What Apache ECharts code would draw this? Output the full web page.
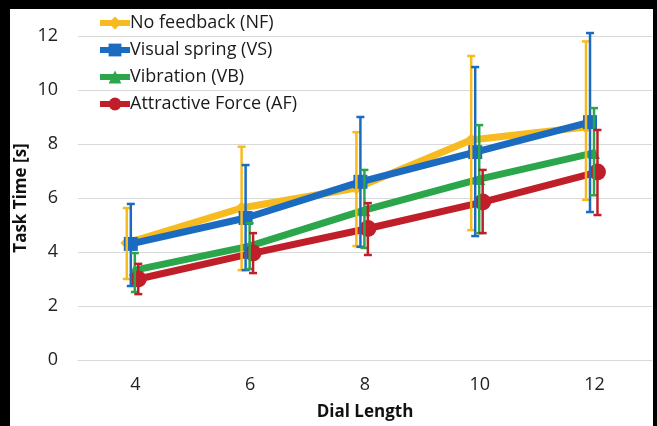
<!DOCTYPE html>
<html>
<head>
<meta charset="utf-8">
<script src="https://cdn.jsdelivr.net/npm/echarts@6.0.0/dist/echarts.min.js"></script>
<style>
    html, body { margin: 0; padding: 0; background: #000; }
    #my_chart { position: absolute; left: 10px; top: 9px; width: 643px; height: 417px; background: #fff; }
</style>
</head>
<body>
<div id="my_chart"></div>
<script>
// x轴：旋钮长度
var dialLength = [4, 6, 8, 10, 12];
// 每个条件在 x 方向的小偏移（原图中误差棒错开排列）
var xShift = [-0.15, -0.08, -0.01, 0.05];

var names = ['No feedback (NF)', 'Visual spring (VS)', 'Vibration (VB)', 'Attractive Force (AF)'];
var colors = ['#F7BA1F', '#1B6CC1', '#2BA64B', '#C01F2A'];
var symbols = ['diamond', 'rect', 'triangle', 'circle'];
var symbolSizes = [13, 14, 12, 17];

// 平均时间
var nfMean = [4.33, 5.63, 6.37, 8.15, 8.63];
var vsMean = [4.30, 5.26, 6.60, 7.70, 8.81];
var vbMean = [3.33, 4.22, 5.55, 6.70, 7.67];
var afMean = [3.00, 3.96, 4.87, 5.85, 6.96];
// 误差棒上端
var nfHigh = [5.63, 7.90, 8.44, 11.26, 11.80];
var vsHigh = [5.78, 7.22, 9.00, 10.85, 12.11];
var vbHigh = [3.96, 5.07, 7.04, 8.70, 9.33];
var afHigh = [3.56, 4.70, 5.81, 7.04, 8.52];
// 误差棒下端
var nfLow = [3.00, 3.33, 4.22, 4.81, 5.93];
var vsLow = [2.74, 3.33, 4.19, 4.59, 5.48];
var vbLow = [2.52, 3.37, 4.15, 4.70, 6.10];
var afLow = [2.44, 3.22, 3.89, 4.70, 5.37];

var yTicks = [0, 2, 4, 6, 8, 10, 12];

var means = [nfMean, vsMean, vbMean, afMean];
var highs = [nfHigh, vsHigh, vbHigh, afHigh];
var lows = [nfLow, vsLow, vbLow, afLow];

var font = '"Open Sans", Lato, sans-serif';

var myChart = echarts.init(document.getElementById('my_chart'));

var series = [];
// 折线
means.forEach(function (m, i) {
    series.push({
        name: names[i],
        type: 'line',
        symbol: symbols[i],
        symbolSize: symbolSizes[i],
        lineStyle: { width: 7, color: colors[i] },
        itemStyle: { color: colors[i] },
        z: 2 + i,
        data: m.map(function (v, k) { return [dialLength[k] + xShift[i], v]; })
    });
});
// 误差棒
means.forEach(function (m, i) {
    series.push({
        type: 'custom',
        name: names[i],
        z: 10 + i,
        clip: false,
        renderItem: function (params, api) {
            var x = api.value(0);
            var top = api.coord([x, api.value(1)]);
            var bot = api.coord([x, api.value(2)]);
            var cap = 4;
            var st = { stroke: colors[i], lineWidth: 2.5 };
            return {
                type: 'group',
                children: [
                    { type: 'line', shape: { x1: top[0], y1: top[1], x2: bot[0], y2: bot[1] }, style: st },
                    { type: 'line', shape: { x1: top[0] - cap, y1: top[1], x2: top[0] + cap, y2: top[1] }, style: st },
                    { type: 'line', shape: { x1: bot[0] - cap, y1: bot[1], x2: bot[0] + cap, y2: bot[1] }, style: st }
                ]
            };
        },
        data: m.map(function (v, k) { return [dialLength[k] + xShift[i], highs[i][k], lows[i][k]]; })
    });
});

var option = {
    animation: false,
    textStyle: { fontFamily: font },
    grid: { left: 68, right: 1, top: 27, bottom: 66, outerBoundsMode: 'none', containLabel: false },
    legend: {
        data: names,
        orient: 'vertical',
        left: 82,
        top: -1,
        itemWidth: 30,
        itemHeight: 16,
        itemGap: 7,
        lineStyle: { width: 6 },
        textStyle: { fontSize: 18, lineHeight: 20, color: '#1a1a1a', fontFamily: font, padding: [0, 0, 0, -5] }
    },
    xAxis: {
        type: 'value',
        min: 3,
        max: 13,
        interval: 1,
        name: 'Dial Length',
        nameLocation: 'middle',
        nameGap: 44,
        nameMoveOverlap: false,
        nameTextStyle: { fontSize: 17, fontWeight: 'bold', color: '#111', fontFamily: font },
        axisLine: { show: true, lineStyle: { color: '#d9d9d9' } },
        axisTick: { show: false },
        splitLine: { show: false },
        axisLabel: {
            fontSize: 18,
            color: '#222',
            margin: 16,
            formatter: function (v) { return dialLength.indexOf(v) >= 0 ? String(v) : ''; }
        }
    },
    yAxis: {
        type: 'value',
        min: yTicks[0],
        max: yTicks[yTicks.length - 1],
        interval: 2,
        name: 'Task Time [s]',
        nameLocation: 'middle',
        nameGap: 48,
        nameMoveOverlap: false,
        nameTextStyle: { fontSize: 17, fontWeight: 'bold', color: '#111', fontFamily: font },
        axisLine: { show: false },
        axisTick: { show: false },
        splitLine: { lineStyle: { color: '#d9d9d9', width: 1 } },
        axisLabel: { fontSize: 18, color: '#222', margin: 20 }
    },
    series: series
};
myChart.setOption(option);
</script>
</body>
</html>
